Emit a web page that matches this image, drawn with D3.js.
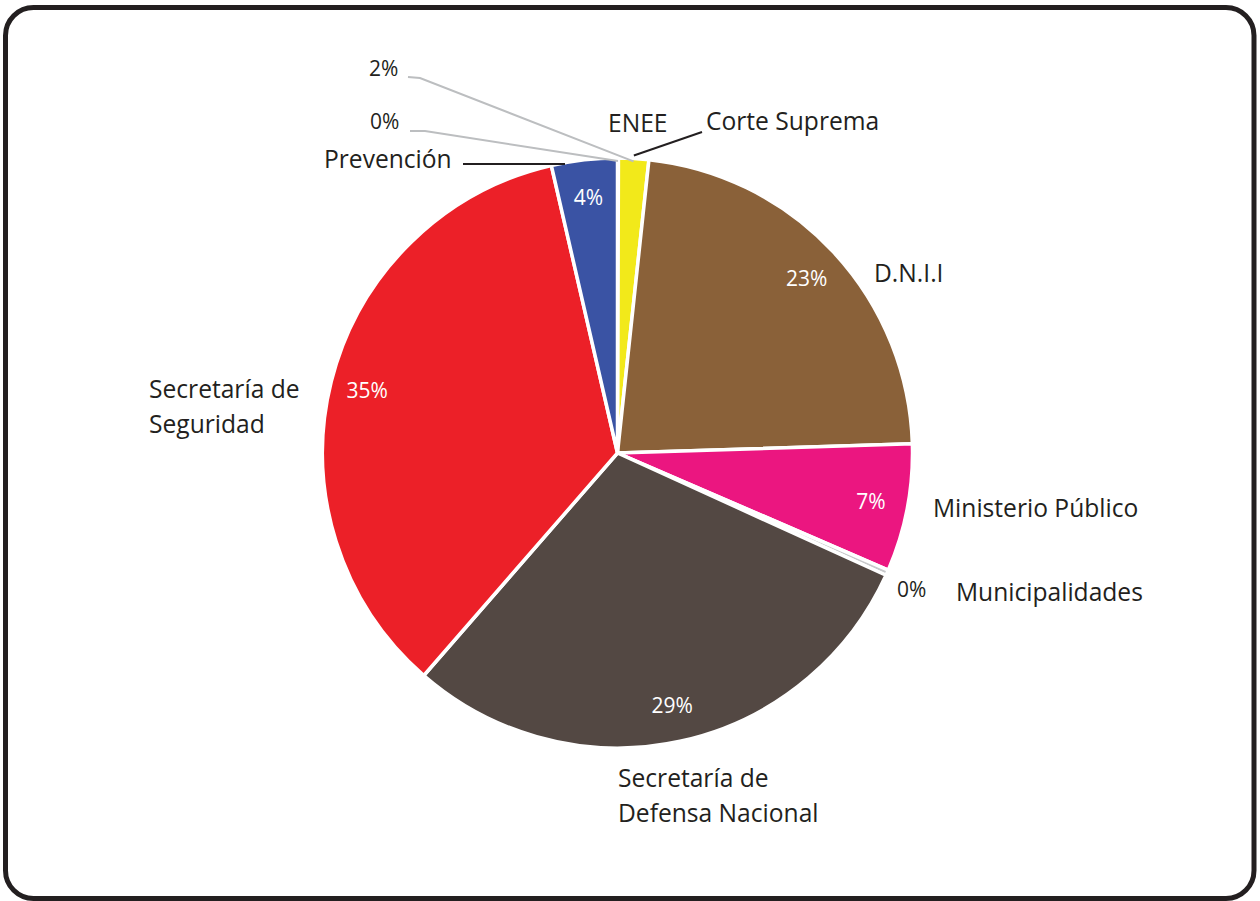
<!DOCTYPE html>
<html>
<head>
<meta charset="utf-8">
<script src="https://cdn.jsdelivr.net/npm/d3@7"></script>
<style>
  body { margin: 0; background: #fff; }
  svg text { font-family: "Open Sans", "Noto Sans", sans-serif; fill: #231F20; }
</style>
</head>
<body>
<div id="contents"></div>
<script>
// data, clockwise from 12 o'clock
var categories = ["ENEE", "Corte Suprema", "D.N.I.I", "Ministerio Público", "Municipalidades",
                  "Secretaría de Defensa Nacional", "Secretaría de Seguridad", "Prevención"];
var values = [0.05, 1.65, 22.8, 7.0, 0.3, 29.6, 35.0, 3.6];
var pctLabels = ["0%", "2%", "23%", "7%", "0%", "29%", "35%", "4%"];
var colors = ["#E6E7E8", "#F2E91A", "#8A6139", "#EB1680", "#C8C9CB", "#534843", "#EC2028", "#3A53A4"];

// label layout (outside text positions)
var catLayout = [
  {lines: ["ENEE"], x: 608, y: 132, leader: false},
  {lines: ["Corte Suprema"], x: 706, y: 130, leader: [702, 132]},
  {lines: ["D.N.I.I"], x: 874, y: 282},
  {lines: ["Ministerio Público"], x: 933, y: 517},
  {lines: ["Municipalidades"], x: 956, y: 601},
  {lines: ["Secretaría de", "Defensa Nacional"], x: 618, y: 787},
  {lines: ["Secretaría de", "Seguridad"], x: 149, y: 398},
  {lines: ["Prevención"], x: 324, y: 168, leader: [463, 164]}
];
// percent labels placed outside (small slices)
var outsidePct = {
  0: {x: 370, y: 129, bend: [410, 131, 425, 131]},
  1: {x: 369, y: 76, bend: [408, 77, 420, 78]},
  4: {x: 897, y: 597}
};

function drawPie(){
  var width = 1260, height = 901;
  var cx = 617.5, cy = 453, r = 295;

  var svg = d3.select("#contents").append("svg")
              .attr("width", width).attr("height", height);

  svg.append("rect")
     .attr("x", 5.5).attr("y", 7.5)
     .attr("width", 1248.5).attr("height", 891)
     .attr("rx", 28).attr("ry", 28)
     .attr("fill", "#fff")
     .attr("stroke", "#231F20")
     .attr("stroke-width", 5);

  var pie = d3.pie().sort(null).value(function(d){ return d; });
  var arcs = pie(values);
  var arc = d3.arc().innerRadius(0).outerRadius(r);
  var labelArc = d3.arc().innerRadius(258).outerRadius(258);

  var chart = svg.append("g").attr("transform", "translate(" + cx + "," + cy + ")");

  chart.selectAll(".slice")
       .data(arcs)
       .enter()
         .append("path")
         .attr("class", "slice")
         .attr("d", arc)
         .attr("fill", function(d, i){ return colors[i]; })
         .attr("stroke", "#fff")
         .attr("stroke-width", 3.5)
         .attr("stroke-linejoin", "round");

  // point on the rim for a slice
  function rim(d, rad){
    var a = (d.startAngle + d.endAngle) / 2;
    return [cx + rad * Math.sin(a), cy - rad * Math.cos(a)];
  }

  // inside percentage labels
  arcs.forEach(function(d, i){
    if (outsidePct[i]) return;
    var c = labelArc.centroid(d);
    svg.append("text")
       .attr("x", cx + c[0]).attr("y", cy + c[1])
       .attr("text-anchor", "middle")
       .attr("dominant-baseline", "central")
       .attr("font-size", 21)
       .style("fill", "#fff")
       .text(pctLabels[i]);
  });

  // outside percentage labels with grey leaders
  Object.keys(outsidePct).forEach(function(k){
    var i = +k, o = outsidePct[k];
    svg.append("text")
       .attr("x", o.x).attr("y", o.y)
       .attr("font-size", 21)
       .text(pctLabels[i]);
    if (o.bend){
      var p = rim(arcs[i], r - 3);
      svg.append("polyline")
         .attr("points", [o.bend[0], o.bend[1], o.bend[2], o.bend[3], p[0], p[1]].join(","))
         .attr("fill", "none")
         .attr("stroke", "#BCBEC0")
         .attr("stroke-width", 2);
    }
  });

  // category labels
  catLayout.forEach(function(l, i){
    var t = svg.append("text")
               .attr("x", l.x).attr("y", l.y)
               .attr("font-size", 24.6);
    l.lines.forEach(function(s, j){
      t.append("tspan").attr("x", l.x).attr("dy", j ? 35 : 0).text(s);
    });
    if (l.leader){
      var p = rim(arcs[i], r + 3);
      svg.append("line")
         .attr("x1", l.leader[0]).attr("y1", l.leader[1])
         .attr("x2", i === 7 ? 565 : p[0]).attr("y2", i === 7 ? l.leader[1] : p[1])
         .attr("stroke", "#231F20")
         .attr("stroke-width", 2);
    }
  });
}
drawPie();
</script>
</body>
</html>
